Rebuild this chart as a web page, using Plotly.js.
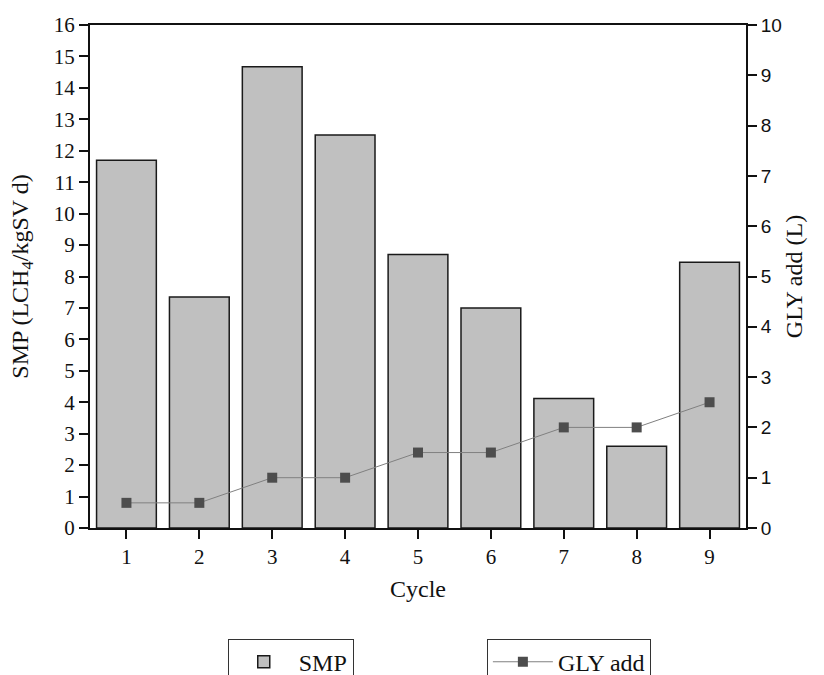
<!DOCTYPE html>
<html>
<head>
<meta charset="utf-8">
<script src="https://cdn.plot.ly/plotly-3.0.1.min.js"></script>
<style>html,body{margin:0;padding:0;background:#fff;}#chart{width:824px;height:675px;}</style>
</head>
<body>
<div id="chart"></div>
<script>
const cycles = [1, 2, 3, 4, 5, 6, 7, 8, 9];
const smp = [11.7, 7.35, 14.67, 12.5, 8.7, 7.0, 4.12, 2.6, 8.45];
const glyAdd = [0.5, 0.5, 1, 1, 1.5, 1.5, 2, 2, 2.5];
const leftTicks = [0,1,2,3,4,5,6,7,8,9,10,11,12,13,14,15,16];
const rightTicks = [0,1,2,3,4,5,6,7,8,9,10];

const serif = 'Liberation Serif, Times New Roman, serif';
const sans = 'Liberation Sans, Arial, sans-serif';

const traces = [
  {
    type: 'bar', x: cycles, y: smp, name: 'SMP',
    marker: {color: '#c0c0c0', line: {color: '#1a1a1a', width: 1.5}},
    legend: 'legend', yaxis: 'y'
  },
  {
    type: 'scatter', mode: 'lines+markers', x: cycles, y: glyAdd, name: 'GLY add',
    line: {color: '#808080', width: 1},
    marker: {symbol: 'square', color: '#4d4d4d', size: 10},
    legend: 'legend2', yaxis: 'y2'
  }
];

const layout = {
  width: 824, height: 675,
  margin: {l: 90, r: 78, t: 25, b: 147, autoexpand: false},
  paper_bgcolor: '#fff', plot_bgcolor: '#fff',
  bargap: 0.18,
  showlegend: true,
  xaxis: {
    range: [0.5, 9.5], tickvals: cycles, ticktext: cycles.map(String),
    showline: true, linecolor: '#111', linewidth: 2, mirror: true,
    ticks: 'outside', ticklen: 9, tickwidth: 2, tickcolor: '#111',
    showgrid: false, zeroline: false,
    tickfont: {family: serif, size: 21, color: '#111'},
    title: {text: 'Cycle', font: {family: serif, size: 24, color: '#111'}, standoff: 12}
  },
  yaxis: {
    range: [0, 16], tickvals: leftTicks,
    showline: true, linecolor: '#111', linewidth: 2,
    ticks: 'outside', ticklen: 9, tickwidth: 2, tickcolor: '#111',
    showgrid: false, zeroline: false,
    tickfont: {family: serif, size: 21, color: '#111'},
    title: {text: 'SMP (LCH<sub>4</sub>/kgSV d)', font: {family: serif, size: 24, color: '#111'}, standoff: 18}
  },
  yaxis2: {
    range: [0, 10], tickvals: rightTicks, overlaying: 'y', side: 'right',
    showline: true, linecolor: '#111', linewidth: 2,
    ticks: 'outside', ticklen: 9, tickwidth: 2, tickcolor: '#111',
    showgrid: false, zeroline: false,
    tickfont: {family: sans, size: 19, color: '#111'},
    title: {text: 'GLY add (L)', font: {family: serif, size: 24, color: '#111'}, standoff: 4}
  },
  legend: {
    x: 0.21, y: -0.22, xanchor: 'left', yanchor: 'top',
    bordercolor: '#333', borderwidth: 1, bgcolor: '#fff', itemwidth: 60,
    font: {family: serif, size: 24, color: '#111'}
  },
  legend2: {
    x: 0.605, y: -0.22, xanchor: 'left', yanchor: 'top',
    bordercolor: '#333', borderwidth: 1, bgcolor: '#fff', itemwidth: 60,
    font: {family: serif, size: 24, color: '#111'}
  }
};

Plotly.newPlot('chart', traces, layout, {displayModeBar: false, staticPlot: true});
</script>
</body>
</html>
